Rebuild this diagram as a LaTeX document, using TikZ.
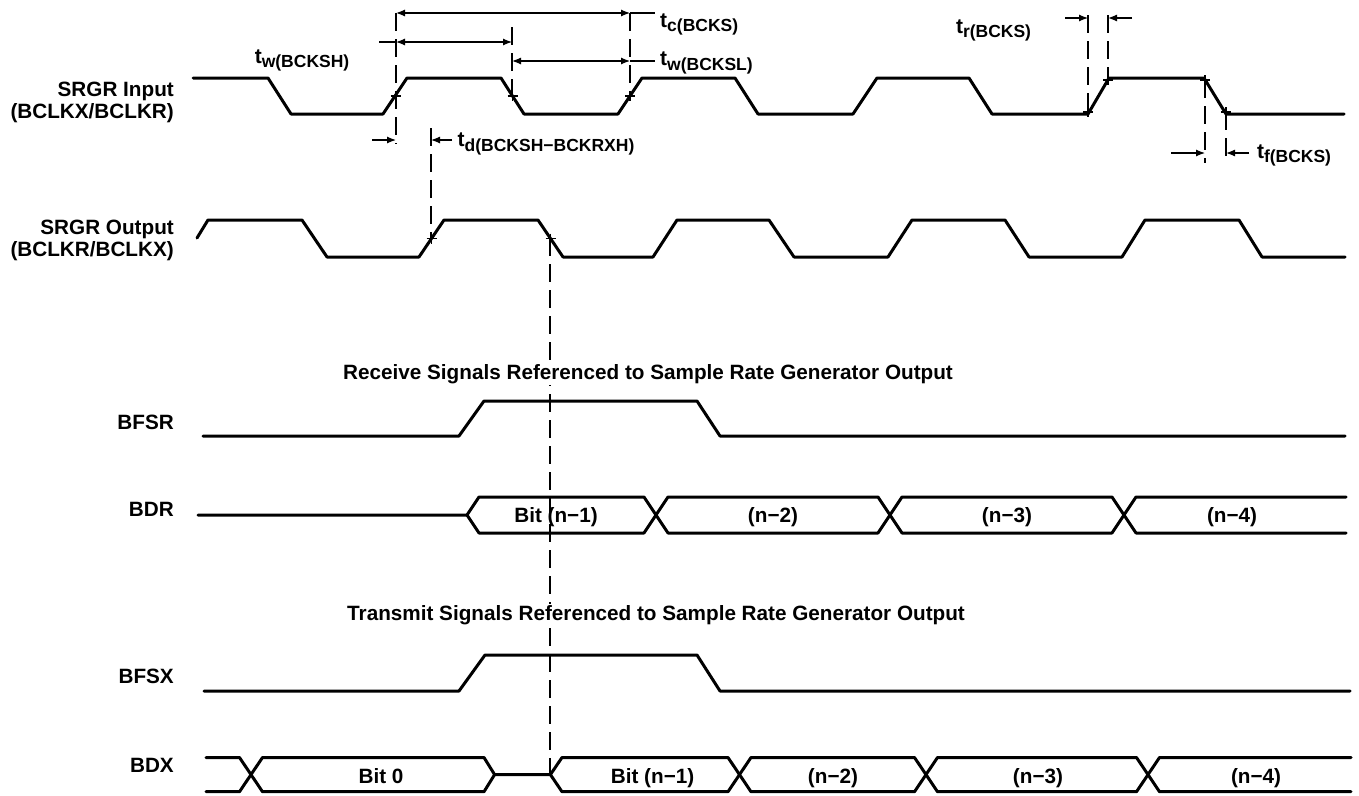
\documentclass[tikz,border=0pt]{standalone}
\usepackage{fontspec}
\setmainfont{Liberation Sans}
\usetikzlibrary{arrows.meta}
\newcommand{\tsb}[1]{t\raisebox{-4.5pt}{\fontsize{17.5}{18}\selectfont #1}}
\tikzset{
  sig/.style={line width=3pt, line cap=round, line join=round},
  dim/.style={line width=1.2pt},
  dsh/.style={line width=1.2pt, dash pattern=on 18pt off 8pt},
  arr/.style={dim, -{Latex[length=9pt,width=7pt]}},
  darr/.style={dim, {Latex[length=9pt,width=7pt]}-{Latex[length=9pt,width=7pt]}},
  lbl/.style={font=\fontsize{20.7}{22}\selectfont\bfseries, inner sep=0pt},
  tlbl/.style={font=\fontsize{21}{22}\selectfont\bfseries, inner sep=0pt, anchor=base west},
  xcross/.pic={\draw[line width=1.1pt] (-5,0) -- (5,0) (0,-5) -- (0,5);}
}
\begin{document}
\begin{tikzpicture}[x=1pt,y=-1pt]
\useasboundingbox (0,0) rectangle (1359,795);

% left labels
\node[lbl, anchor=base east] (lin1) at (174,96.7) {SRGR Input};
\node[lbl, anchor=base east] (lin2) at (174,118) {(BCLKX/BCLKR)};
\node[lbl, anchor=base east] (lout1) at (174,234) {SRGR Output};
\node[lbl, anchor=base east] (lout2) at (174,256.7) {(BCLKR/BCLKX)};
\node[lbl, anchor=base east] (lbfsr) at (174,429.3) {BFSR};
\node[lbl, anchor=base east] (lbdr) at (174,516) {BDR};
\node[lbl, anchor=base east] (lbfsx) at (174,683.3) {BFSX};
\node[lbl, anchor=base east] (lbdx) at (174,772.3) {BDX};

% dashed reference lines
\draw[dsh] (396,13) -- (396,144);
\draw[dsh] (512,27) -- (512,100);
\draw[dsh] (630,13) -- (630,100);
\draw[dsh] (431,128) -- (431,238);
\draw[dsh] (550,238) -- (550,773);
\draw[dsh] (1088,15) -- (1088,112);
\draw[dsh] (1108,15) -- (1108,80);
\draw[dsh] (1205,80) -- (1205,163);
\draw[dsh] (1226,112) -- (1226,163);

% titles
\node[lbl, anchor=base west, fill=white, inner sep=2pt] (trx) at (341,379) {Receive Signals Referenced to Sample Rate Generator Output};
\node[lbl, anchor=base west, fill=white, inner sep=2pt] (ttx) at (345,620.7) {Transmit Signals Referenced to Sample Rate Generator Output};

% SRGR input
\draw[sig] (193,78) -- (268,78) -- (291,114) -- (383,114) -- (407,78) -- (501,78) -- (524,114) -- (618,114) -- (642,78) -- (735,78) -- (758,114) -- (853,114) -- (877,78) -- (969,78) -- (992,114) -- (1088,114) -- (1109,78) -- (1204,78) -- (1226,114) -- (1344,114);

% SRGR output
\draw[sig] (197,238) -- (208,220) -- (302,220) -- (327,257) -- (419,257) -- (444,220) -- (538,220) -- (563,257) -- (653,257) -- (677,220) -- (769,220) -- (794,257) -- (888,257) -- (912,220) -- (1005,220) -- (1029,257) -- (1122,257) -- (1145,220) -- (1239,220) -- (1262,257) -- (1345,257);

% BFSR
\draw[sig] (203,436) -- (459,436) -- (484,401) -- (697,401) -- (720,436) -- (1345,436);
% BFSX
\draw[sig] (204,691) -- (459,691) -- (485,655) -- (697,655) -- (720,691) -- (1350,691);

% BDR
\draw[sig] (198,515) -- (467,515) -- (479,497) -- (644,497) -- (668,533) -- (878,533) -- (902,497) -- (1112,497) -- (1136,533) -- (1346,533);
\draw[sig] (467,515) -- (479,533) -- (644,533) -- (668,497) -- (878,497) -- (902,533) -- (1112,533) -- (1136,497) -- (1346,497);

% BDX
\draw[sig] (206,757.5) -- (239.5,757.5) -- (262.5,791.7) -- (484,791.7) -- (494.6,774.6) -- (550.4,774.6) -- (562,791.7) -- (728,791.7) -- (751,757.5) -- (914.5,757.5) -- (937.5,791.7) -- (1136.5,791.7) -- (1159.5,757.5) -- (1351,757.5);
\draw[sig] (206,791.7) -- (239.5,791.7) -- (262.5,757.5) -- (484,757.5) -- (494.6,774.6);
\draw[sig] (550.4,774.6) -- (562,757.5) -- (728,757.5) -- (751,791.7) -- (914.5,791.7) -- (937.5,757.5) -- (1136.5,757.5) -- (1159.5,791.7) -- (1351,791.7);

% bus labels
\node[lbl, anchor=base] (r1) at (556,522) {Bit (n−1)};
\node[lbl, anchor=base] (r2) at (773,522) {(n−2)};
\node[lbl, anchor=base] (r3) at (1007,522) {(n−3)};
\node[lbl, anchor=base] (r4) at (1232,522) {(n−4)};
\node[lbl, anchor=base] (x0) at (381,783.3) {Bit 0};
\node[lbl, anchor=base] (x1) at (652.6,783.3) {Bit (n−1)};
\node[lbl, anchor=base] (x2) at (833,783.3) {(n−2)};
\node[lbl, anchor=base] (x3) at (1038,783.3) {(n−3)};
\node[lbl, anchor=base] (x4) at (1256,783.3) {(n−4)};

% cross marks
\foreach \p in {(395.5,96),(512.5,96),(630,96),(431.5,238.5),(550.5,238.5),(1088,112),(1108,80),(1205,80),(1226,112)}
  \path \p pic {xcross};

% dimension arrows
\draw[darr] (396,13) -- (630,13);
\draw[dim] (630,13) -- (655,13);
\draw[dim] (379,42) -- (396,42);
\draw[darr] (396,42) -- (512,42);
\draw[darr] (512,61) -- (630,61);
\draw[dim] (630,61) -- (655,61);
\draw[arr] (372,140) -- (396,140);
\draw[arr] (452,140) -- (431,140);
\draw[arr] (1065,18) -- (1088,18);
\draw[arr] (1132,18) -- (1108,18);
\draw[arr] (1171,153) -- (1205,153);
\draw[arr] (1249,153) -- (1226,153);

% timing labels
\node[tlbl] (ltc) at (660,27.3) {\tsb{c(BCKS)}};
\node[tlbl] (ltwl) at (660,65.7) {\tsb{w(BCKSL)}};
\node[tlbl] (ltwh) at (254.6,63.3) {\tsb{w(BCKSH)}};
\node[tlbl] (ltd) at (457.5,146.7) {\tsb{d(BCKSH−BCKRXH)}};
\node[tlbl] (ltr) at (955.8,33.3) {\tsb{r(BCKS)}};
\node[tlbl] (ltf) at (1256.8,158.3) {\tsb{f(BCKS)}};
\end{tikzpicture}
\end{document}
